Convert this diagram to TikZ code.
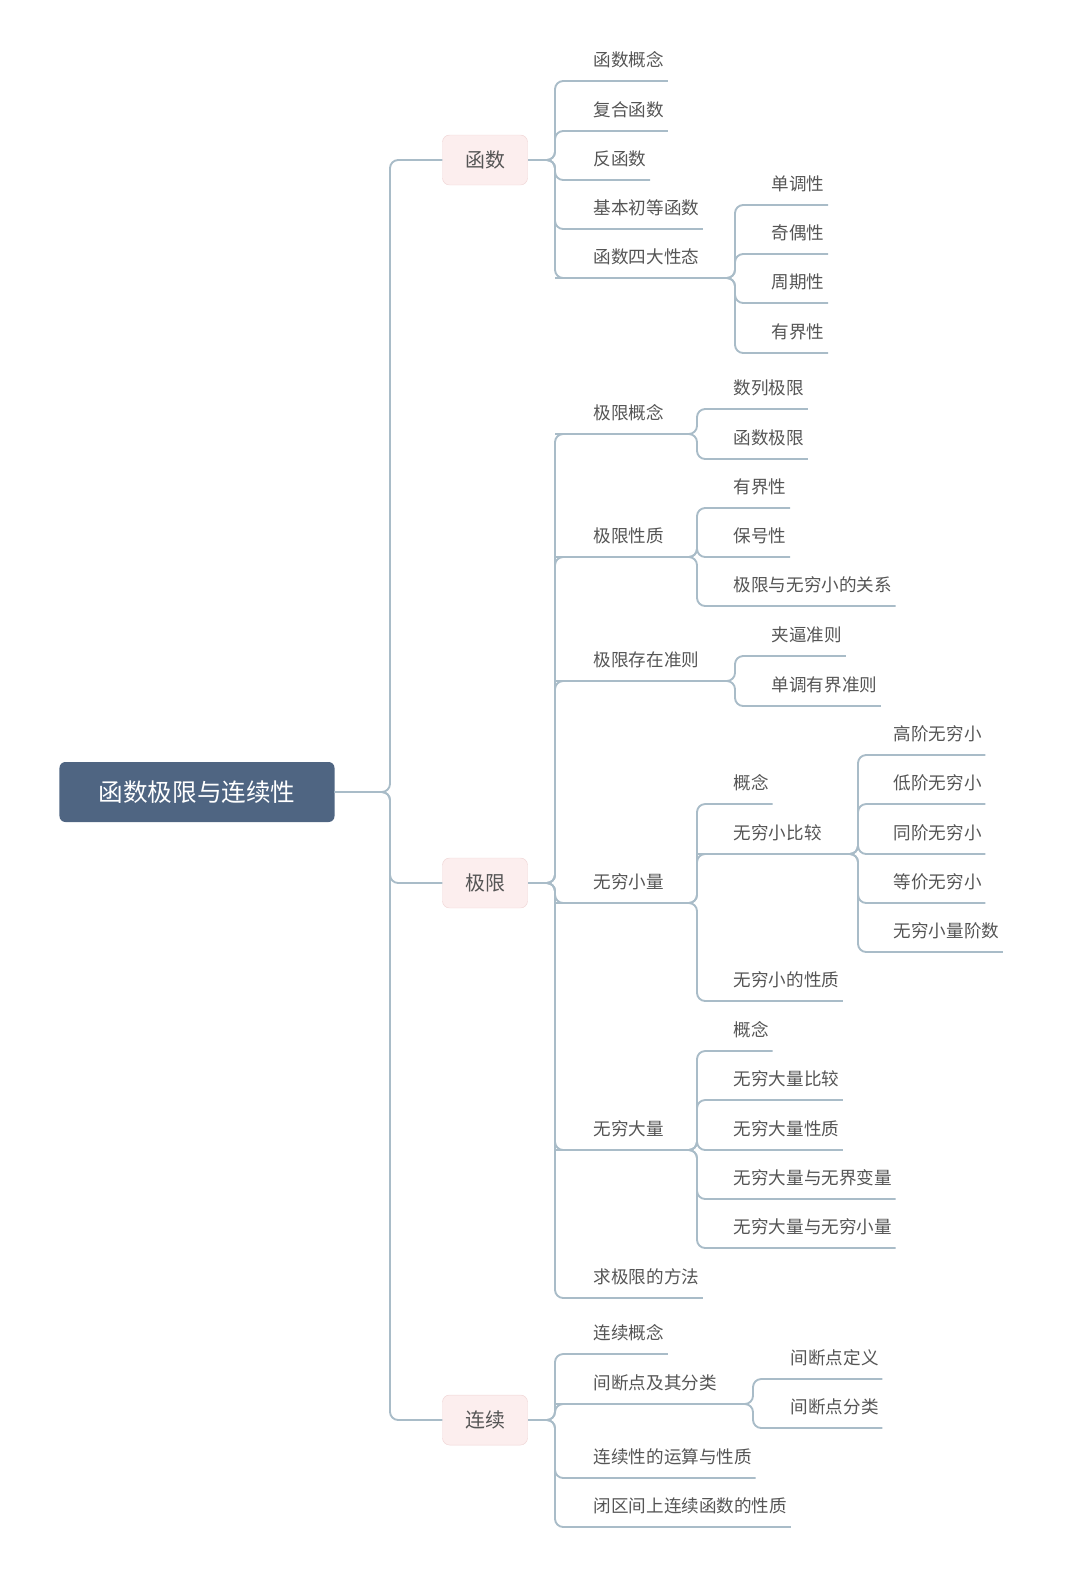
\documentclass[tikz,border=0pt]{standalone}
\usepackage{fontspec}
\newfontfamily\cjk{Noto Sans CJK SC}
\usetikzlibrary{positioning}
\definecolor{linkcol}{HTML}{A9BCC8}
\definecolor{rootcol}{HTML}{4F6582}
\definecolor{boxcol}{HTML}{FCEEEE}
\definecolor{boxline}{HTML}{F0D5D5}
\definecolor{txtcol}{HTML}{555555}
% one bracket of leaves: prefix, parent x, parent y, bracket x, text x, list
\newcommand\grp[6]{%
  \foreach \cy/\t [count=\i] in {#6}{%
    \node[leaf] (#1\i) at (#5,\cy) {\t};
    \coordinate (#1u\i) at (0,\cy+21);
    \draw[link] (#2,#3) -- (#4,#3) -- (#4,\cy+21) -- (#1\i.east |- #1u\i);
  }}
\begin{document}
\begin{tikzpicture}
  [x=0.03cm,y=-0.03cm,
  % Styles
  link/.style={linkcol,line width=1.6pt,rounded corners=7pt},
  leaf/.style={anchor=west,inner sep=3pt,text=txtcol,font=\cjk\fontsize{15}{18}\selectfont},
  root/.style={fill=rootcol,rounded corners=5pt,text=white,minimum width=8.25cm,
    minimum height=1.8cm,font=\cjk\fontsize{21}{24}\selectfont},
  topic/.style={fill=boxcol,draw=boxline,rounded corners=6pt,text=txtcol,minimum width=2.55cm,
    minimum height=1.5cm,font=\cjk\fontsize{17}{20}\selectfont}]
  \useasboundingbox (0,0) rectangle (1080,1585);
  % Main topics
  \node[root] (main) at (197,792) {函数极限与连续性};
  \node[topic] (fn) at (485,160) {函数};
  \node[topic] (lim) at (485,883) {极限};
  \node[topic] (cont) at (485,1420) {连续};
  \foreach \t in {fn,lim,cont}
    \draw[link] (main.east) -- (390,792) -- (390,0 |- \t) -- (\t.west);
  % 函数
  \grp{a}{528}{160}{555}{590}{60/函数概念,110/复合函数,159/反函数,208/基本初等函数,257/函数四大性态}
  \grp{b}{555}{278}{735}{768}{184/单调性,233/奇偶性,282/周期性,332/有界性}
  % 极限
  \grp{c}{528}{883}{555}{590}{413/极限概念,536/极限性质,660/极限存在准则,882/无穷小量,1129/无穷大量,1277/求极限的方法}
  \grp{d}{555}{434}{697}{730}{388/数列极限,438/函数极限}
  \grp{e}{555}{557}{697}{730}{487/有界性,536/保号性,585/极限与无穷小的关系}
  \grp{f}{555}{681}{735}{768}{635/夹逼准则,685/单调有界准则}
  \grp{g}{555}{903}{697}{730}{783/概念,833/无穷小比较,980/无穷小的性质}
  \grp{h}{697}{854}{858}{890}{734/高阶无穷小,783/低阶无穷小,833/同阶无穷小,882/等价无穷小,931/无穷小量阶数}
  \grp{k}{555}{1150}{697}{730}{1030/概念,1079/无穷大量比较,1129/无穷大量性质,1178/无穷大量与无界变量,1227/无穷大量与无穷小量}
  % 连续
  \grp{m}{528}{1420}{555}{590}{1333/连续概念,1383/间断点及其分类,1457/连续性的运算与性质,1506/闭区间上连续函数的性质}
  \grp{n}{555}{1404}{753}{787}{1358/间断点定义,1407/间断点分类}
\end{tikzpicture}
\end{document}
